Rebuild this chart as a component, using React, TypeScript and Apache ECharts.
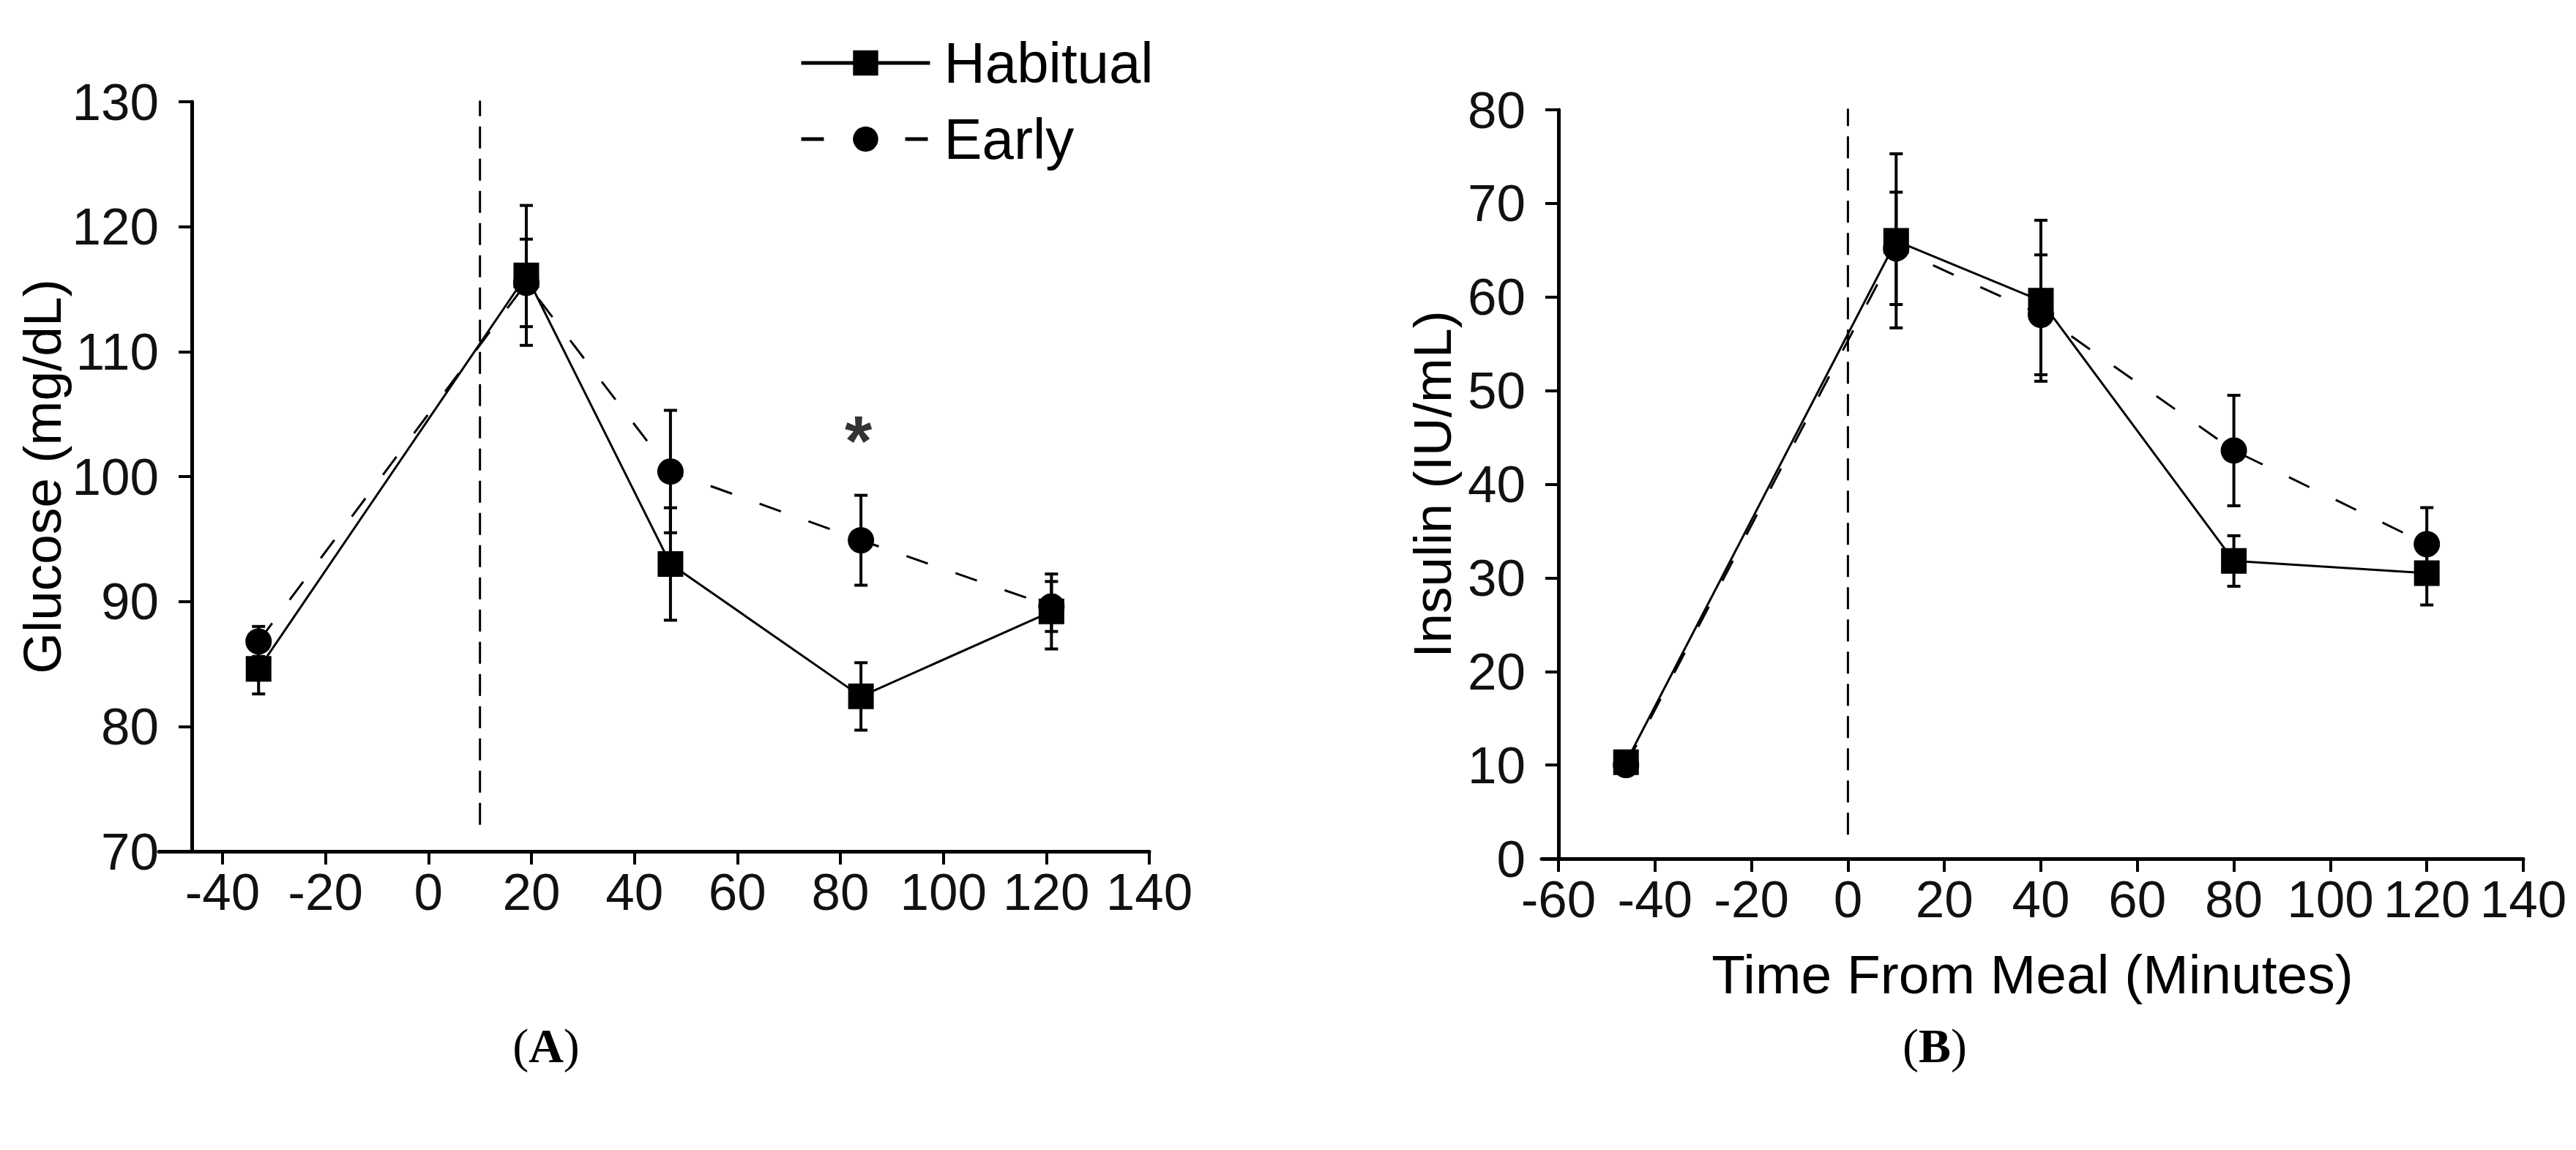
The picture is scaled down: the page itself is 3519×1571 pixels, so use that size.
import React, { useEffect, useRef } from 'react';
import * as echarts from 'echarts';

// ---------- data ----------
const glucoseTimes = [-33, 19, 47, 84, 121];
const glucoseHabitual = [84.6, 116.1, 93.0, 82.4, 89.2];
const glucoseHabitualErr = [2.0, 5.6, 4.5, 2.7, 3.0];
const glucoseEarly = [86.8, 115.5, 100.4, 94.9, 89.6];
const glucoseEarlyErr = [1.2, 3.5, 4.9, 3.6, 2.0];

const insulinTimes = [-46, 10, 40, 80, 120];
const insulinHabitual = [10.3, 66.0, 59.6, 31.8, 30.5];
const insulinHabitualErr = [0.8, 9.3, 8.6, 2.7, 3.4];
const insulinEarly = [10.0, 65.2, 58.1, 43.6, 33.6];
const insulinEarlyErr = [0.8, 6.0, 6.4, 5.9, 3.9];

const xTicksA = [-40, -20, 0, 20, 40, 60, 80, 100, 120, 140];
const xTicksB = [-60, -40, -20, 0, 20, 40, 60, 80, 100, 120, 140];

const mealLineA = [[10, 130.6], [10, 71.4]];
const mealLineB = [[0, 80.6], [0, 2.2]];
const significance = [[83.5, 103.7]];

const FONT = "'Liberation Sans', Arial, sans-serif";
const SERIF = "'Liberation Serif', 'Times New Roman', serif";

const pairs = (xs: number[], ys: number[]) => xs.map((x, i) => [x, ys[i]]);
const triples = (xs: number[], ys: number[], es: number[]) => xs.map((x, i) => [x, ys[i], es[i]]);

const errorRender = (params: any, api: any) => {
  const x = api.value(0);
  const y = api.value(1);
  const e = api.value(2);
  const top = api.coord([x, y + e]);
  const bot = api.coord([x, y - e]);
  const hw = 9;
  const st = { stroke: '#000', lineWidth: 4 };
  return {
    type: 'group',
    children: [
      { type: 'line', shape: { x1: top[0], y1: top[1], x2: bot[0], y2: bot[1] }, style: st },
      { type: 'line', shape: { x1: top[0] - hw, y1: top[1], x2: top[0] + hw, y2: top[1] }, style: st },
      { type: 'line', shape: { x1: bot[0] - hw, y1: bot[1], x2: bot[0] + hw, y2: bot[1] }, style: st },
    ],
  };
};

const axisLineStyle = { show: true, onZero: false, lineStyle: { color: '#000', width: 5 } };

function makeXAxis(gridIndex: number, min: number, ticks: number[], name: string) {
  return {
    type: 'value',
    gridIndex,
    min,
    max: 140,
    name,
    nameLocation: 'middle',
    nameGap: 120,
    nameTextStyle: { fontSize: 75, fontFamily: FONT, color: '#000' },
    axisLine: axisLineStyle,
    axisTick: { show: true, length: 18, inside: false, customValues: ticks, lineStyle: { color: '#000', width: 4 } },
    axisLabel: { customValues: ticks, fontSize: 71, fontFamily: FONT, color: '#111', margin: 20 },
    splitLine: { show: false },
  };
}

function makeYAxis(gridIndex: number, min: number, max: number, offset: number, name: string, nameGap: number) {
  return {
    type: 'value',
    gridIndex,
    min,
    max,
    interval: 10,
    offset,
    name,
    nameLocation: 'middle',
    nameGap,
    nameTextStyle: { fontSize: 73, fontFamily: FONT, color: '#000' },
    axisLine: axisLineStyle,
    axisTick: { show: true, length: 18, inside: false, lineStyle: { color: '#000', width: 4 } },
    axisLabel: { fontSize: 71, fontFamily: FONT, color: '#111', margin: 45, padding: [0, 0, 16, 0] },
    splitLine: { show: false },
  };
}

function lineSeries(name: string, idx: number, data: number[][], dashed: boolean) {
  return {
    name,
    type: 'line',
    xAxisIndex: idx,
    yAxisIndex: idx,
    data,
    symbol: dashed ? 'circle' : 'rect',
    symbolSize: dashed ? 36 : 35,
    showSymbol: true,
    color: '#000',
    itemStyle: { color: '#000' },
    lineStyle: { color: '#000', width: 3, type: dashed ? [31, 40] : 'solid' },
    z: dashed ? 3 : 4,
    silent: true,
  };
}

function errSeries(idx: number, data: number[][]) {
  return {
    type: 'custom',
    xAxisIndex: idx,
    yAxisIndex: idx,
    data,
    encode: { x: 0, y: 1 },
    renderItem: errorRender,
    z: 2,
    silent: true,
  };
}

function mealSeries(idx: number, data: number[][]) {
  return {
    type: 'line',
    xAxisIndex: idx,
    yAxisIndex: idx,
    data,
    symbol: 'none',
    lineStyle: { color: '#000', width: 3, type: [30, 14] },
    z: 1,
    silent: true,
  };
}

export default function App() {
  const ref = useRef<HTMLDivElement>(null);
  useEffect(() => {
    if (!ref.current) return;
    const chart = echarts.init(ref.current, undefined, { renderer: 'svg' });
    const option: any = {
      animation: false,
      backgroundColor: '#fff',
      grid: [
        { left: 217, top: 139, width: 1353, height: 1024 },
        { left: 2106, top: 150, width: 1341, height: 1023 },
      ],
      xAxis: [
        makeXAxis(0, -52.37, xTicksA, ''),
        makeXAxis(1, -63.49, xTicksB, 'Time From Meal (Minutes)'),
      ],
      yAxis: [
        makeYAxis(0, 70, 130, -45, 'Glucose (mg/dL)', 168),
        makeYAxis(1, 0, 80, -23, 'Insulin (IU/mL)', 136),
      ],
      legend: {
        data: ['Habitual', 'Early'],
        orient: 'vertical',
        left: 1092,
        top: 46,
        padding: 0,
        itemWidth: 176,
        itemHeight: 43,
        itemGap: 24,
        lineStyle: { width: 5 },
        textStyle: { fontSize: 78, fontFamily: FONT, color: '#000', lineHeight: 80, padding: [0, 0, 0, 14] },
        selectedMode: false,
      },
      graphic: [
        {
          type: 'text', x: 746, y: 1428,
          style: {
            text: '({b|A})', fill: '#000', font: `66px ${SERIF}`, fontSize: 66, fontFamily: SERIF,
            textAlign: 'center', textVerticalAlign: 'middle', align: 'center', verticalAlign: 'middle',
            rich: { b: { fontWeight: 'bold', fontSize: 66, fontFamily: SERIF, fill: '#000' } },
          },
        },
        {
          type: 'text', x: 2643, y: 1428,
          style: {
            text: '({b|B})', fill: '#000', font: `66px ${SERIF}`, fontSize: 66, fontFamily: SERIF,
            textAlign: 'center', textVerticalAlign: 'middle', align: 'center', verticalAlign: 'middle',
            rich: { b: { fontWeight: 'bold', fontSize: 66, fontFamily: SERIF, fill: '#000' } },
          },
        },
      ],
      series: [
        mealSeries(0, mealLineA),
        mealSeries(1, mealLineB),
        errSeries(0, triples(glucoseTimes, glucoseEarly, glucoseEarlyErr)),
        errSeries(0, triples(glucoseTimes, glucoseHabitual, glucoseHabitualErr)),
        errSeries(1, triples(insulinTimes, insulinEarly, insulinEarlyErr)),
        errSeries(1, triples(insulinTimes, insulinHabitual, insulinHabitualErr)),
        lineSeries('Early', 0, pairs(glucoseTimes, glucoseEarly), true),
        lineSeries('Habitual', 0, pairs(glucoseTimes, glucoseHabitual), false),
        lineSeries('Early', 1, pairs(insulinTimes, insulinEarly), true),
        lineSeries('Habitual', 1, pairs(insulinTimes, insulinHabitual), false),
        {
          type: 'scatter',
          xAxisIndex: 0,
          yAxisIndex: 0,
          data: significance,
          symbolSize: 1,
          itemStyle: { color: 'rgba(0,0,0,0)' },
          label: {
            show: true, formatter: '*', position: 'inside', fontSize: 96, fontWeight: 'bold',
            fontFamily: FONT, color: '#000', offset: [0, 14],
          },
          silent: true,
          z: 5,
        },
      ],
    };
    chart.setOption(option);
    return () => chart.dispose();
  }, []);
  return (
    <div
      ref={ref}
      style={{ position: 'absolute', left: 0, top: 0, width: '3519px', height: '1571px', background: '#fff' }}
    />
  );
}
